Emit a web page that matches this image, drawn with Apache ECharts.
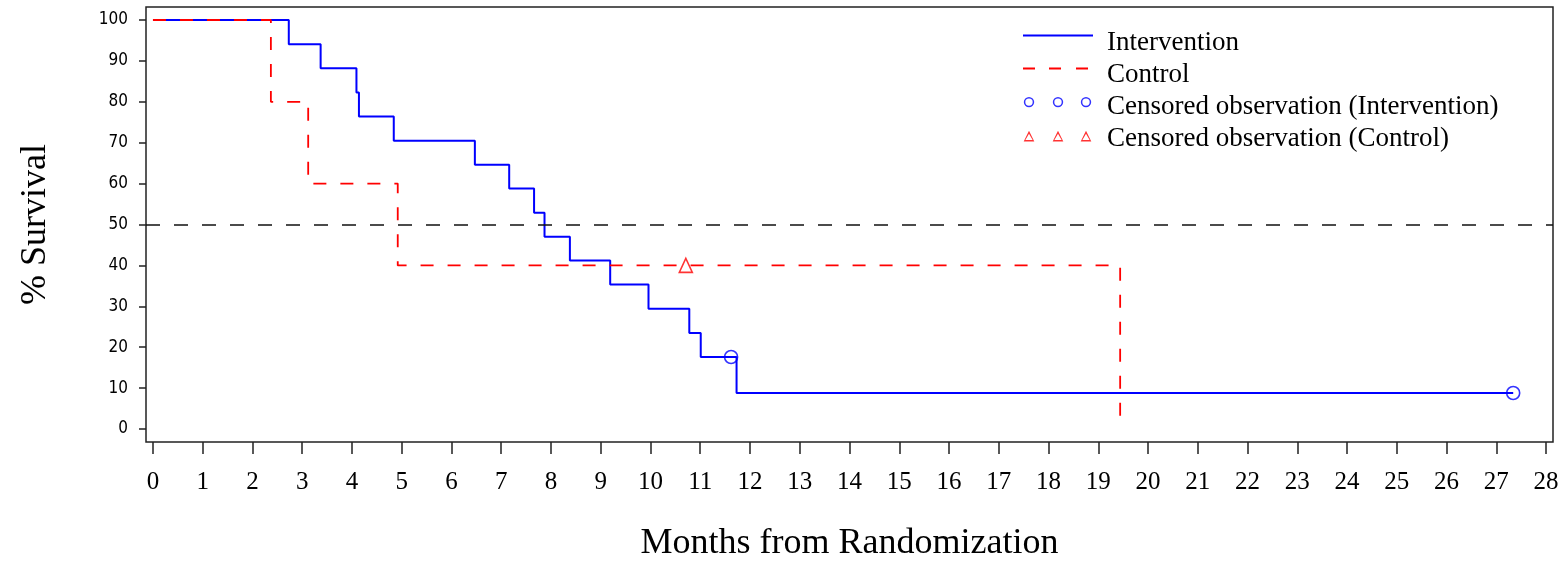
<!DOCTYPE html>
<html>
<head>
<meta charset="utf-8">
<title>Kaplan-Meier survival by arm</title>
<script src="https://cdn.jsdelivr.net/npm/echarts@6/dist/echarts.min.js"></script>
<style>
  html, body { margin: 0; padding: 0; background: #ffffff; }
  #chart { width: 1567px; height: 568px; }
</style>
</head>
<body>
<div id="chart"></div>
<script>
// Kaplan-Meier step estimates: each point is (event time, survival after the event)
const interventionTimes    = [0, 2.73, 3.37, 4.09, 4.14, 4.84, 6.47, 7.16, 7.66, 7.87, 8.38, 9.19, 9.96, 10.78, 11.01, 11.73, 27.34];
const interventionSurvival = [100, 94.1, 88.2, 82.3, 76.4, 70.5, 64.6, 58.8, 52.9, 47.0, 41.2, 35.3, 29.4, 23.5, 17.6, 8.8, 8.8];

const controlTimes    = [0, 2.37, 3.12, 4.92, 19.44];
const controlSurvival = [100, 80, 60, 40, 0];

// Censored observations
const censoredInterventionTimes    = [11.62, 27.34];
const censoredInterventionSurvival = [17.6, 8.8];
const censoredControlTimes    = [10.71];
const censoredControlSurvival = [40];

// Median reference level
const medianLevel = 50;

// Tick labels
const monthTicks    = [0, 1, 2, 3, 4, 5, 6, 7, 8, 9, 10, 11, 12, 13, 14, 15, 16, 17, 18, 19, 20, 21, 22, 23, 24, 25, 26, 27, 28];
const survivalTicks = [0, 10, 20, 30, 40, 50, 60, 70, 80, 90, 100];

const seriesNames = [
  'Intervention',
  'Control',
  'Censored observation (Intervention)',
  'Censored observation (Control)'
];

const BLUE = '#0000ff';
const RED = '#ff0000';
const SERIF = "'Liberation Serif', 'Times New Roman', serif";
const NARROW = "'Liberation Sans Narrow', 'DejaVu Sans Condensed', 'Liberation Sans', sans-serif";

function zip(xs, ys) {
  return xs.map((x, i) => [x, ys[i]]);
}

// Legend icons are drawn in a 70 x 20 box; two zero-area anchors pin the box
// so the glyphs can sit a little above the text's centre line.
const ICON_BOX = 'M0 0L0 0ZM70 20L70 20Z';
function rectPath(x0, x1, cy, h) {
  return `M${x0} ${cy - h / 2}L${x1} ${cy - h / 2}L${x1} ${cy + h / 2}L${x0} ${cy + h / 2}Z`;
}
function ringPath(cx, cy) {
  const r = 5.2, ri = 3.7;
  return `M${cx - r} ${cy}A${r} ${r} 0 1 0 ${cx + r} ${cy}A${r} ${r} 0 1 0 ${cx - r} ${cy}Z` +
         `M${cx - ri} ${cy}A${ri} ${ri} 0 1 1 ${cx + ri} ${cy}A${ri} ${ri} 0 1 1 ${cx - ri} ${cy}Z`;
}
function trianglePath(cx, cy) {
  const t = cy - 5.3, b = cy + 5.3;
  return `M${cx} ${t}L${cx + 5.3} ${b}L${cx - 5.3} ${b}Z` +
         `M${cx} ${t + 3}L${cx - 3.6} ${b - 1.4}L${cx + 3.6} ${b - 1.4}Z`;
}
const solidIcon     = 'path://' + ICON_BOX + rectPath(0, 70, 3, 1.8);
const dashedIcon    = 'path://' + ICON_BOX + [[0, 12], [26, 38], [53, 65]].map(d => rectPath(d[0], d[1], 4, 1.8)).join('');
const circlesIcon   = 'path://' + ICON_BOX + [6, 35, 63].map(cx => ringPath(cx, 5.6)).join('');
const trianglesIcon = 'path://' + ICON_BOX + [6, 35, 63].map(cx => trianglePath(cx, 7.6)).join('');

const chart = echarts.init(document.getElementById('chart'), null, { renderer: 'canvas' });

chart.setOption({
  animation: false,
  backgroundColor: '#ffffff',
  grid: {
    left: 146,
    right: 14,
    top: 7,
    bottom: 126,
    show: true,
    borderColor: '#222222',
    borderWidth: 1.5,
    backgroundColor: 'transparent',
    containLabel: false,
    outerBoundsMode: 'none'
  },
  legend: {
    orient: 'vertical',
    left: 1023,
    top: 29,
    padding: 0,
    itemWidth: 70,
    itemHeight: 20,
    itemGap: 5,
    selectedMode: false,
    textStyle: {
      fontFamily: SERIF,
      fontSize: 27,
      color: '#000000',
      padding: [0, 0, 0, 9]
    },
    data: [
      { name: seriesNames[0], icon: solidIcon,     itemStyle: { color: BLUE, borderWidth: 0, opacity: 1 } },
      { name: seriesNames[1], icon: dashedIcon,    itemStyle: { color: RED,  borderWidth: 0, opacity: 1 } },
      { name: seriesNames[2], icon: circlesIcon,   itemStyle: { color: BLUE, borderWidth: 0 } },
      { name: seriesNames[3], icon: trianglesIcon, itemStyle: { color: RED,  borderWidth: 0 } }
    ]
  },
  xAxis: {
    type: 'value',
    min: -0.14,
    max: 28.14,
    name: 'Months from Randomization',
    nameLocation: 'middle',
    nameGap: 84,
    nameTextStyle: { fontFamily: SERIF, fontSize: 36, color: '#000000' },
    axisLine: { show: false, onZero: false },
    splitLine: { show: false },
    axisTick: {
      show: true,
      inside: false,
      length: 12,
      customValues: monthTicks,
      lineStyle: { color: '#222222', width: 1.5 }
    },
    axisLabel: {
      customValues: monthTicks,
      margin: 28,
      fontFamily: SERIF,
      fontSize: 25,
      color: '#000000'
    }
  },
  yAxis: {
    type: 'value',
    min: -3.18,
    max: 103.18,
    name: '% Survival',
    nameLocation: 'middle',
    nameGap: 92,
    nameTextStyle: { fontFamily: SERIF, fontSize: 36, color: '#000000' },
    axisLine: { show: false, onZero: false },
    splitLine: { show: false },
    axisTick: {
      show: true,
      inside: false,
      length: 7,
      customValues: survivalTicks,
      lineStyle: { color: '#222222', width: 1.5 }
    },
    axisLabel: {
      customValues: survivalTicks,
      margin: 18,
      fontFamily: NARROW,
      fontSize: 17,
      color: '#000000'
    }
  },
  series: [
    {
      name: seriesNames[0],
      type: 'line',
      step: 'end',
      symbol: 'none',
      silent: true,
      color: BLUE,
      lineStyle: { color: BLUE, width: 2, type: 'solid' },
      emphasis: { disabled: true },
      data: zip(interventionTimes, interventionSurvival),
      z: 2,
      markLine: {
        silent: true,
        symbol: 'none',
        label: { show: false },
        lineStyle: { color: '#111111', width: 1.6, type: [14, 14] },
        emphasis: { disabled: true },
        data: [{ yAxis: medianLevel }]
      }
    },
    {
      name: seriesNames[1],
      type: 'line',
      step: 'end',
      symbol: 'none',
      silent: true,
      color: RED,
      lineStyle: { color: RED, width: 1.8, type: [13, 14] },
      emphasis: { disabled: true },
      data: zip(controlTimes, controlSurvival),
      z: 3
    },
    {
      name: seriesNames[2],
      type: 'scatter',
      symbol: 'circle',
      symbolSize: 13,
      silent: true,
      color: BLUE,
      itemStyle: { color: 'transparent', borderColor: BLUE, borderWidth: 1.6 },
      emphasis: { disabled: true },
      data: zip(censoredInterventionTimes, censoredInterventionSurvival),
      z: 4
    },
    {
      name: seriesNames[3],
      type: 'scatter',
      symbol: 'triangle',
      symbolSize: [13, 14],
      silent: true,
      color: RED,
      itemStyle: { color: 'transparent', borderColor: RED, borderWidth: 1.6 },
      emphasis: { disabled: true },
      data: zip(censoredControlTimes, censoredControlSurvival),
      z: 4
    }
  ]
});
</script>
</body>
</html>
